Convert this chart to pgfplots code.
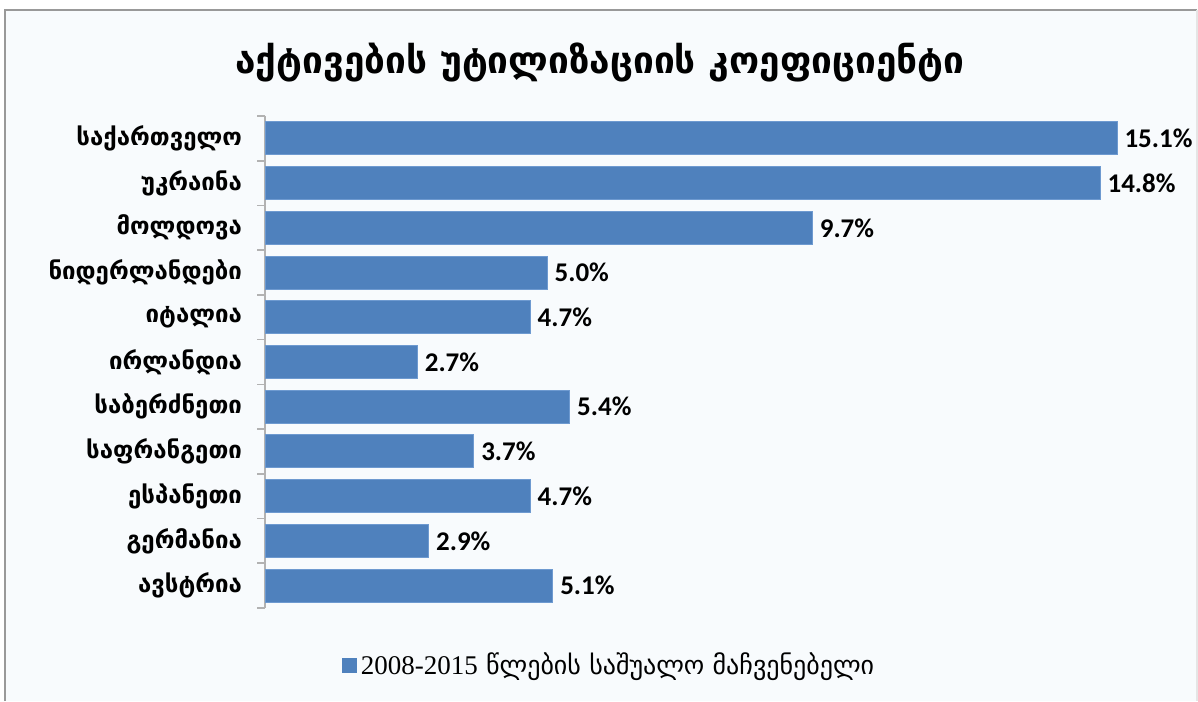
\documentclass[border=0pt]{standalone}
\usepackage{fontspec}
\setmainfont{Liberation Serif}
\newfontfamily\geo{DejaVu Sans}
\newfontfamily\calib{Carlito}
\usepackage{pgfplots}
\pgfplotsset{compat=1.18}
\definecolor{barblue}{HTML}{4F81BD}
\definecolor{baredge}{HTML}{6E9AD0}
\definecolor{bg}{HTML}{F8FBFD}
\begin{document}
\begin{tikzpicture}
\path[use as bounding box] (0,0) rectangle (599pt,350.5pt);
\fill[white] (0,0) rectangle (599pt,350.5pt);
\fill[bg] (2.5pt,0) rectangle (598.5pt,345.5pt);
\draw[gray!80, line width=1.2pt] (2.5pt,0) -- (2.5pt,345.5pt) -- (598.5pt,345.5pt);
\draw[gray!20, line width=0.8pt] (598.5pt,345.5pt) -- (598.5pt,0);
\node[font=\geo\bfseries\fontsize{18.5}{22}\selectfont] at (300pt,319.5pt) {აქტივების უტილიზაციის კოეფიციენტი};
\begin{axis}[
  at={(132.5pt,46.5pt)}, anchor=south west,
  scale only axis, width=426pt, height=246pt,
  xbar, bar width=16.5pt,
  xmin=0, xmax=15.1, ymin=-0.5, ymax=10.5, y dir=reverse,
  axis x line=none, axis y line*=left,
  y axis line style={draw=gray!60, line width=0.8pt},
  clip=false,
  ytick={0,...,10},
  yticklabels={საქართველო,უკრაინა,მოლდოვა,ნიდერლანდები,იტალია,ირლანდია,საბერძნეთი,საფრანგეთი,ესპანეთი,გერმანია,ავსტრია},
  major tick length=0pt,
  minor ytick={-0.5,0.5,...,10.5},
  minor tick length=4pt,
  tick align=outside,
  tick style={draw=gray!60, line width=0.8pt},
  yticklabel style={font=\geo\bfseries\fontsize{12}{14}\selectfont, xshift=-8pt},
  point meta=x,
  nodes near coords={\pgfmathprintnumber[fixed,fixed zerofill,precision=1,assume math mode=true]{\pgfplotspointmeta}\%},
  nodes near coords style={font=\calib\bfseries\fontsize{13.5}{15}\selectfont, black, anchor=west, inner sep=3.5pt},
  legend style={at={(0.405,-0.116)}, anchor=center, draw=none, fill=none, font=\fontsize{13.5}{15}\selectfont},
  legend image code/.code={\fill[barblue] (0pt,-3.5pt) rectangle (7pt,3.5pt);},
]
\addplot[fill=barblue, draw=baredge, line width=0.5pt] coordinates {
(15.1,0) (14.8,1) (9.7,2) (5.0,3) (4.7,4) (2.7,5) (5.4,6) (3.7,7) (4.7,8) (2.9,9) (5.1,10)};
\addlegendentry{2008-2015{\geo\fontsize{13}{15}\selectfont\ წლების საშუალო მაჩვენებელი}}
\end{axis}
\end{tikzpicture}
\end{document}
